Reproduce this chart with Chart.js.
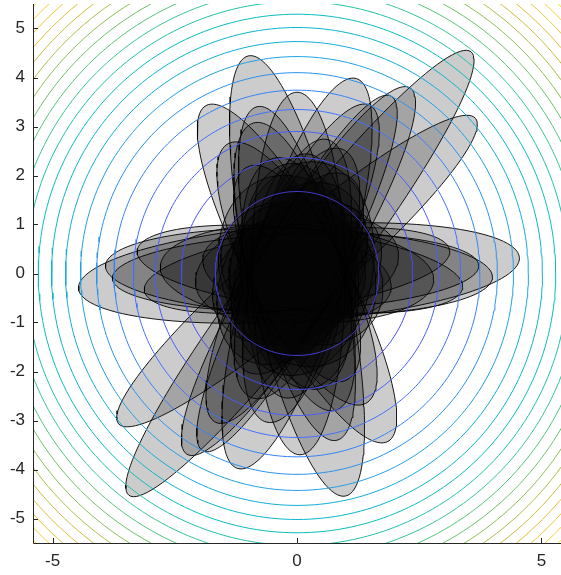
<!DOCTYPE html>
<html>
<head>
<meta charset="utf-8">
<script src="https://cdn.jsdelivr.net/npm/chart.js@4.4.1/dist/chart.umd.min.js"></script>
<style>
  html, body { margin: 0; padding: 0; background: #fff; }
  #wrap { width: 561px; height: 575px; }
</style>
</head>
<body>
<div id="wrap"><canvas id="chart"></canvas></div>
<script>
// Tick labels
const xTicks = [-5, 0, 5];
const yTicks = [-5, -4, -3, -2, -1, 0, 1, 2, 3, 4, 5];

// Contour levels of x^2 + y^2
const contourLevels = [2.8, 5.6, 8.4, 11.2, 14.0, 16.8, 19.6, 22.4, 25.2, 28.0, 30.8,
                       33.6, 36.4, 39.2, 42.0, 44.8, 47.6, 50.4, 53.2, 56.0, 58.8];
const contourMax = 63;

// Ellipses: centre, semi-axes and angle (degrees)
const ellipseCx    = [0, 0, 0.03, 0, 0.06, 0.03, 0, 0, -0.05, 0, 0, -0.09, 0, 0, 0,
                      0.04, 0.04, 0.06, 0, -0.03, 0,
                      0.1, -0.1, 0, 0.05, 0, 0.1, 0, -0.05, 0, 0.05, 0, 0, 0, 0, 0, 0];
const ellipseCy    = [-0.05, 0, 0, 0, 0, 0.05, 0, 0.05, 0.14, 0, -0.15, 0.2, 0, 0, 0,
                      0.01, 0.04, 0.09, 0.06, 0.03, 0,
                      0.1, 0, 0.05, -0.05, 0, 0, 0.1, -0.1, 0, 0.05, 0, -0.05, 0, 0, 0, 0];
const ellipseA     = [4.6, 3.9, 3.7, 4.16, 5.72, 4.38, 4.1, 4.8, 3.05, 3.0, 2.95, 3.6, 3.5, 2.25, 2.4,
                      4.52, 3.96, 3.35, 3.15, 3.75, 2.8,
                      2.2, 2.0, 2.0, 2.3, 1.85, 1.75, 2.1, 1.6, 1.5, 1.7, 1.4, 2.5, 2.7, 2.4, 1.3, 1.95];
const ellipseB     = [0.98, 0.95, 0.95, 0.98, 0.85, 0.85, 0.8, 0.82, 0.95, 0.95, 0.95, 0.9, 0.9, 1.0, 1.05,
                      0.98, 0.88, 0.82, 0.78, 0.78, 1.0,
                      1.45, 1.35, 1.55, 1.2, 1.3, 1.35, 1.1, 1.2, 1.1, 1.0, 1.2, 1.0, 0.95, 0.9, 1.0, 0.9];
const ellipseAngle = [102.5, 118.5, 90.5, 73, 52.3, 58.6, 62, 40.5, 106, 118, 78, 64, 103.5, 62.7, 101,
                      4, -1.7, -6.5, 7.5, 2, -3,
                      80, 60, 110, 95, 30, 150, 10, 70, 120, 45, 0, 85, 70, 115, 90, -10];

// parula colormap stops
const parulaStops = [
  [0.000, 62, 38, 168], [0.0625, 69, 67, 224], [0.125, 72, 91, 246], [0.1875, 62, 117, 254],
  [0.25, 44, 140, 240], [0.3125, 32, 160, 227], [0.375, 14, 177, 212], [0.4375, 6, 188, 191],
  [0.5, 40, 195, 160], [0.5625, 72, 200, 130], [0.625, 112, 192, 104], [0.6875, 160, 189, 80],
  [0.75, 198, 188, 64], [0.8125, 228, 192, 58], [0.875, 248, 202, 52], [0.9375, 245, 225, 40],
  [1.0, 249, 251, 21]
];

function parula(t) {
  t = Math.max(0, Math.min(1, t));
  for (let i = 1; i < parulaStops.length; i++) {
    const p = parulaStops[i - 1], q = parulaStops[i];
    if (t <= q[0]) {
      const f = (t - p[0]) / (q[0] - p[0]);
      const c = [1, 2, 3].map(k => Math.round(p[k] + f * (q[k] - p[k])));
      return `rgb(${c[0]}, ${c[1]}, ${c[2]})`;
    }
  }
  return 'rgb(249, 251, 21)';
}

function circlePoints(r, n) {
  const pts = [];
  for (let i = 0; i <= n; i++) {
    const t = 2 * Math.PI * i / n;
    pts.push({ x: r * Math.cos(t), y: r * Math.sin(t) });
  }
  return pts;
}

function ellipsePoints(cx, cy, a, b, angDeg, n) {
  const th = angDeg * Math.PI / 180;
  const ct = Math.cos(th), st = Math.sin(th);
  const pts = [];
  for (let i = 0; i <= n; i++) {
    const t = 2 * Math.PI * i / n;
    const u = a * Math.cos(t), v = b * Math.sin(t);
    pts.push({ x: cx + u * ct - v * st, y: cy + u * st + v * ct });
  }
  return pts;
}

const datasets = [];

// Contour rings (on top)
contourLevels.forEach(level => {
  datasets.push({
    data: circlePoints(Math.sqrt(level), 240),
    borderColor: parula(level / contourMax),
    borderWidth: 1,
    fill: false,
    pointRadius: 0,
    tension: 0,
    order: 0
  });
});

// Ellipses
ellipseCx.forEach((cx, i) => {
  datasets.push({
    data: ellipsePoints(cx, ellipseCy[i], ellipseA[i], ellipseB[i], ellipseAngle[i], 120),
    borderColor: 'rgba(0, 0, 0, 0.9)',
    borderWidth: 1,
    backgroundColor: 'rgba(0, 0, 0, 0.2)',
    fill: 'shape',
    pointRadius: 0,
    tension: 0,
    order: 1
  });
});

const axisColor = '#262626';

// Axis lines and inward ticks, drawn over the data
const axesPlugin = {
  id: 'axesPlugin',
  afterDraw(chart) {
    const { ctx, chartArea, scales } = chart;
    ctx.save();
    ctx.strokeStyle = axisColor;
    ctx.lineWidth = 1;
    ctx.beginPath();
    ctx.moveTo(chartArea.left + 0.5, chartArea.top);
    ctx.lineTo(chartArea.left + 0.5, chartArea.bottom + 0.5);
    ctx.lineTo(chartArea.right, chartArea.bottom + 0.5);
    xTicks.forEach(v => {
      const px = Math.round(scales.x.getPixelForValue(v)) + 0.5;
      ctx.moveTo(px, chartArea.bottom);
      ctx.lineTo(px, chartArea.bottom - 5);
    });
    yTicks.forEach(v => {
      const py = Math.round(scales.y.getPixelForValue(v)) + 0.5;
      ctx.moveTo(chartArea.left, py);
      ctx.lineTo(chartArea.left + 5, py);
    });
    ctx.stroke();
    ctx.restore();
  }
};

const tickFont = { family: '"Liberation Sans", Arial, sans-serif', size: 17 };

new Chart(document.getElementById('chart').getContext('2d'), {
  type: 'line',
  data: { datasets: datasets },
  options: {
    responsive: true,
    maintainAspectRatio: false,
    animation: false,
    layout: { padding: { top: 4, left: 0, right: 0, bottom: 0 } },
    plugins: {
      legend: { display: false },
      tooltip: { enabled: false }
    },
    scales: {
      x: {
        type: 'linear',
        min: -5.4,
        max: 5.4,
        grid: { display: false, drawTicks: false },
        border: { display: false },
        afterBuildTicks: scale => { scale.ticks = xTicks.map(v => ({ value: v })); },
        afterFit: scale => { scale.height = 32; scale.paddingLeft = 0; scale.paddingRight = 0; },
        ticks: { font: tickFont, color: axisColor, padding: 8, maxRotation: 0 }
      },
      y: {
        type: 'linear',
        min: -5.5,
        max: 5.5,
        grid: { display: false, drawTicks: false },
        border: { display: false },
        afterBuildTicks: scale => { scale.ticks = yTicks.map(v => ({ value: v })); },
        afterFit: scale => { scale.width = 33; scale.paddingTop = 0; scale.paddingBottom = 0; },
        ticks: { font: tickFont, color: axisColor, padding: 8 }
      }
    }
  },
  plugins: [axesPlugin]
});
</script>
</body>
</html>
